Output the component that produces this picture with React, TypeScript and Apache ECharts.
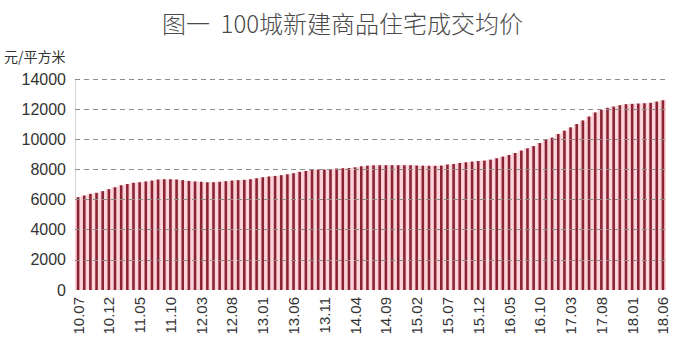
import React, { useEffect, useRef } from "react";
import * as echarts from "echarts";

// Monthly categories 2010.07 – 2018.06
const categories: string[] = [];
for (let y = 2010; y <= 2018; y++) {
  for (let m = 1; m <= 12; m++) {
    if (y === 2010 && m < 7) continue;
    if (y === 2018 && m > 6) continue;
    categories.push(`${String(y % 100).padStart(2, "0")}.${String(m).padStart(2, "0")}`);
  }
}

// Average price (元/平方米)
const prices2010to2012 = [
  6160, 6270, 6380, 6450, 6560, 6690, 6820, 6950, 7040, 7110, 7150, 7200, 7260, 7330,
  7350, 7350, 7330, 7290, 7240, 7200, 7180, 7150, 7150, 7180, 7220, 7260, 7290,
];
const prices2012to2015 = [
  7310, 7350, 7420, 7480, 7530, 7570, 7620, 7680, 7750, 7840, 7900, 7970, 7990, 7990,
  8010, 8060, 8080, 8100, 8140, 8210, 8250, 8270, 8280, 8280, 8280, 8280, 8280, 8280,
  8260, 8250, 8240, 8240,
];
const prices2015to2017 = [
  8255, 8320, 8365, 8430, 8475, 8520, 8560, 8585, 8650, 8740, 8850, 8960, 9090, 9250,
  9400, 9550, 9750, 9970, 10110, 10350,
];
const prices2017to2018 = [
  10570, 10790, 11010, 11250, 11510, 11780, 11950, 12090, 12170, 12260, 12330, 12350,
  12370, 12390, 12420, 12500, 12590,
];
const prices = [...prices2010to2012, ...prices2012to2015, ...prices2015to2017, ...prices2017to2018];

const yTicks = [2000, 4000, 6000, 8000, 10000, 12000, 14000];

export default function App() {
  const ref = useRef<HTMLDivElement>(null);
  useEffect(() => {
    if (!ref.current) return;
    const chart = echarts.init(ref.current, null, { renderer: "svg" });
    const latin = "'Liberation Sans', Arial, sans-serif";
    chart.setOption({
      animation: false,
      backgroundColor: "#ffffff",
      title: {
        text: "图一  100城新建商品住宅成交均价",
        left: "center",
        top: 5,
        textStyle: {
          fontFamily: "'Noto Sans CJK SC', sans-serif",
          fontSize: 24,
          fontWeight: 300,
          color: "#4a4a4a",
        },
      },
      graphic: [
        {
          type: "text",
          left: 4,
          top: 49,
          style: {
            text: "元/平方米",
            fontFamily: "'Noto Sans CJK SC', sans-serif",
            fontSize: 14,
            fill: "#333",
          },
        },
      ],
      grid: { left: 75, right: 19, top: 79, bottom: 64, containLabel: false },
      xAxis: [
        {
          type: "category",
          data: categories,
          axisLine: { show: false },
          axisTick: { show: false },
          axisLabel: {
            interval: 4,
            rotate: 90,
            fontSize: 15,
            color: "#333",
            fontFamily: latin,
            margin: 7,
          },
        },
        {
          type: "category",
          data: categories,
          show: false,
        },
      ],
      yAxis: {
        type: "value",
        min: 0,
        max: 14000,
        interval: 2000,
        axisLine: { show: true, lineStyle: { color: "#d4d4d4", width: 1 } },
        axisTick: { show: false },
        splitLine: { show: false },
        axisLabel: {
          fontSize: 16,
          color: "#333",
          fontFamily: latin,
          margin: 9,
          formatter: (v: number) => String(v),
        },
      },
      series: [
        {
          type: "bar",
          xAxisIndex: 1,
          data: prices,
          barCategoryGap: "0%",
          itemStyle: { color: "#fbd0d6" },
          silent: true,
          z: 1,
        },
        {
          type: "bar",
          xAxisIndex: 0,
          data: prices,
          barWidth: "42%",
          itemStyle: { color: "#8a2433" },
          z: 3,
          markLine: {
            silent: true,
            symbol: ["none", "none"],
            label: { show: false },
            lineStyle: { type: [5, 4], color: "#8c8c8c", width: 1 },
            data: yTicks.map((v) => ({ yAxis: v })),
            z: 5,
          },
        },
      ],
    });
    return () => chart.dispose();
  }, []);
  return (
    <div
      ref={ref}
      style={{ position: "fixed", left: 0, top: 0, width: 685, height: 354 }}
    />
  );
}
